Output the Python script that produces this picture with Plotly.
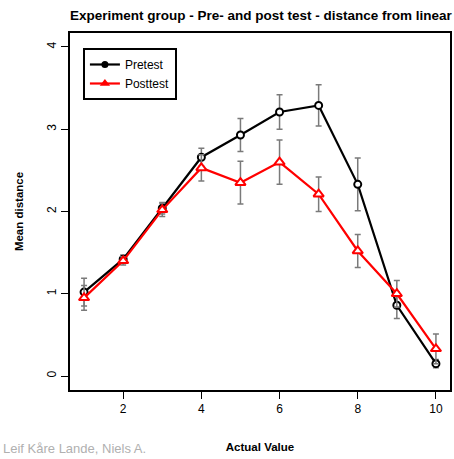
import plotly.graph_objects as go

x_vals = [1, 2, 3, 4, 5, 6, 7, 8, 9, 10]
pre_mean = [1.02, 1.42, 2.04, 2.66, 2.93, 3.21, 3.29, 2.33, 0.86, 0.15]
pre_err = [0.17, 0.05, 0.07, 0.11, 0.20, 0.21, 0.25, 0.32, 0.16, 0.05]
post_mean = [0.95, 1.40, 2.02, 2.53, 2.35, 2.60, 2.21, 1.52, 1.00, 0.33]
post_err = [0.15, 0.05, 0.08, 0.16, 0.26, 0.27, 0.21, 0.20, 0.16, 0.18]

title = "Experiment group - Pre- and post test - distance from linear"
x_title = "Actual Value"
y_title = "Mean distance"
x_ticks = [2, 4, 6, 8, 10]
y_ticks = [0, 1, 2, 3, 4]
credit = "Leif Kåre Lande, Niels A."

FONT = "Liberation Sans, Arial, sans-serif"

fig = go.Figure()
fig.add_trace(go.Scatter(
    x=x_vals, y=pre_mean, mode="lines+markers", name="Pretest", showlegend=False,
    line=dict(color="black", width=2.2),
    marker=dict(symbol="circle", size=7, color="white", line=dict(color="black", width=2)),
    error_y=dict(type="data", array=pre_err, color="#7a7a7a", thickness=1.5, width=3),
))
fig.add_trace(go.Scatter(
    x=x_vals, y=post_mean, mode="lines+markers", name="Posttest", showlegend=False,
    line=dict(color="red", width=2.2),
    marker=dict(symbol="triangle-up", size=9, color="white", line=dict(color="red", width=2)),
    error_y=dict(type="data", array=post_err, color="#7a7a7a", thickness=1.5, width=3),
))
# legend entries (filled symbols as in the reference legend)
fig.add_trace(go.Scatter(
    x=[None], y=[None], mode="lines+markers", name="Pretest",
    line=dict(color="black", width=2.2), marker=dict(symbol="circle", size=7, color="black"),
))
fig.add_trace(go.Scatter(
    x=[None], y=[None], mode="lines+markers", name="Posttest",
    line=dict(color="red", width=2.2), marker=dict(symbol="triangle-up", size=9, color="red"),
))

fig.update_layout(
    width=454, height=459,
    margin=dict(l=70, r=2, t=33, b=69),
    paper_bgcolor="white", plot_bgcolor="white",
    font=dict(family=FONT, size=12, color="black"),
    title=dict(text="<b>" + title + "</b>", x=0.5745, xanchor="center", y=0.966, yanchor="middle",
               font=dict(size=13.5, family=FONT, color="black")),
    legend=dict(x=0.034, y=0.958, xanchor="left", yanchor="top",
                bordercolor="black", borderwidth=2, bgcolor="white",
                font=dict(size=12, family=FONT), tracegroupgap=0, itemwidth=30),
    showlegend=True,
)
fig.update_xaxes(
    range=[0.64, 10.36], tickmode="array", tickvals=x_ticks,
    ticks="outside", ticklen=7, tickcolor="black", tickwidth=1,
    showline=True, linecolor="black", linewidth=2, mirror=True,
    showgrid=False, zeroline=False,
    title=dict(text="<b>" + x_title + "</b>", font=dict(size=11.5), standoff=28),
    tickfont=dict(size=12),
)
fig.update_yaxes(
    range=[-0.17, 4.17], tickmode="array", tickvals=y_ticks, tickangle=-90,
    ticks="outside", ticklen=7, tickcolor="black", tickwidth=1,
    showline=True, linecolor="black", linewidth=2, mirror=True,
    showgrid=False, zeroline=False,
    title=dict(text="<b>" + y_title + "</b>", font=dict(size=11.5), standoff=19),
    tickfont=dict(size=12),
)
fig.add_annotation(
    text=credit, xref="paper", yref="paper",
    x=(1 - 70) / 382, y=(390 - 458) / 357, xanchor="left", yanchor="bottom",
    showarrow=False, font=dict(size=13, color="#b0b0b0", family=FONT),
)

fig.write_html("out.html")
